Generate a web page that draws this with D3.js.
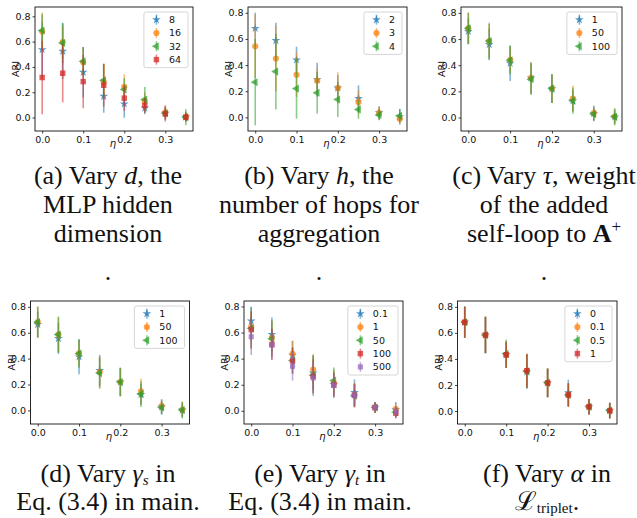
<!DOCTYPE html>
<html>
<head>
<meta charset="utf-8">
<script src="https://cdn.jsdelivr.net/npm/d3@7"></script>
<style>
  body { margin: 0; background: #fff; }
  .tick text, .lab { font-family: "DejaVu Sans", sans-serif; font-size: 9.5px; fill: #111; }
  .cap { font-family: "Liberation Serif", "DejaVu Serif", serif; font-size: 26px; fill: #111; }
</style>
</head>
<body>
<svg id="fig" width="637" height="518"></svg>
<script>
// noise levels on the x axis
var eta = [0, 0.05, 0.1, 0.15, 0.2, 0.25, 0.3, 0.35];
var xTicks = [0, 0.1, 0.2, 0.3];
var yTicks = [0, 0.2, 0.4, 0.6, 0.8];

// (a) hidden dimension d
var dLabels = ["8", "16", "32", "64"];
var dMeans = [
  [0.537, 0.524, 0.358, 0.168, 0.108, 0.076, 0.034, 0.005],
  [0.679, 0.597, 0.437, 0.280, 0.242, 0.129, 0.040, 0.005],
  [0.687, 0.589, 0.445, 0.295, 0.221, 0.142, 0.034, 0.003],
  [0.316, 0.350, 0.284, 0.255, 0.153, 0.095, 0.029, 0.003]
];
var dErrs = [
  [0.22, 0.22, 0.20, 0.13, 0.11, 0.05, 0.05, 0.04],
  [0.15, 0.13, 0.12, 0.14, 0.10, 0.07, 0.06, 0.04],
  [0.13, 0.16, 0.11, 0.13, 0.09, 0.10, 0.04, 0.065],
  [0.29, 0.23, 0.21, 0.17, 0.10, 0.06, 0.06, 0.03]
];

// (b) number of hops h
var hLabels = ["2", "3", "4"];
var hMeans = [
  [0.681, 0.588, 0.440, 0.288, 0.225, 0.145, 0.036, 0.005],
  [0.544, 0.450, 0.326, 0.282, 0.225, 0.117, 0.034, -0.010],
  [0.269, 0.350, 0.220, 0.189, 0.137, 0.060, 0.018, 0.013]
];
var hErrs = [
  [0.12, 0.135, 0.10, 0.13, 0.10, 0.10, 0.05, 0.06],
  [0.24, 0.25, 0.17, 0.10, 0.12, 0.09, 0.05, 0.04],
  [0.33, 0.29, 0.23, 0.16, 0.135, 0.07, 0.04, 0.05]
];

// (c) self-loop weight tau
var tauLabels = ["1", "50", "100"];
var tauMeans = [
  [0.659, 0.559, 0.415, 0.303, 0.221, 0.128, 0.031, 0.005],
  [0.682, 0.585, 0.441, 0.303, 0.221, 0.144, 0.033, 0.008],
  [0.682, 0.585, 0.438, 0.292, 0.221, 0.128, 0.026, 0.005]
];
var tauErrs = [
  [0.10, 0.12, 0.135, 0.12, 0.11, 0.08, 0.06, 0.05],
  [0.12, 0.13, 0.10, 0.12, 0.11, 0.10, 0.05, 0.06],
  [0.12, 0.14, 0.11, 0.12, 0.11, 0.10, 0.05, 0.065]
];

// (d) gamma_s
var gsLabels = ["1", "50", "100"];
var gsMeans = [
  [0.664, 0.556, 0.414, 0.309, 0.219, 0.123, 0.026, 0.003],
  [0.682, 0.586, 0.440, 0.296, 0.219, 0.147, 0.033, 0.005],
  [0.682, 0.586, 0.440, 0.288, 0.219, 0.126, 0.023, 0.003]
];
var gsErrs = [
  [0.10, 0.12, 0.135, 0.12, 0.11, 0.08, 0.06, 0.05],
  [0.12, 0.13, 0.10, 0.12, 0.11, 0.10, 0.05, 0.06],
  [0.12, 0.14, 0.11, 0.12, 0.11, 0.10, 0.05, 0.065]
];

// (e) gamma_t
var gtLabels = ["0.1", "1", "50", "100", "500"];
var gtMeans = [
  [0.689, 0.586, 0.427, 0.290, 0.200, 0.141, 0.028, 0.008],
  [0.643, 0.560, 0.437, 0.316, 0.214, 0.123, 0.026, 0.013],
  [0.633, 0.553, 0.386, 0.273, 0.232, 0.116, 0.026, -0.010],
  [0.622, 0.509, 0.383, 0.265, 0.200, 0.118, 0.026, -0.018],
  [0.568, 0.504, 0.342, 0.252, 0.195, 0.118, 0.026, -0.005]
];
var gtErrs = [
  [0.11, 0.13, 0.11, 0.13, 0.10, 0.10, 0.04, 0.06],
  [0.12, 0.13, 0.10, 0.11, 0.10, 0.09, 0.04, 0.05],
  [0.16, 0.14, 0.10, 0.16, 0.10, 0.09, 0.04, 0.04],
  [0.14, 0.12, 0.10, 0.13, 0.09, 0.09, 0.04, 0.04],
  [0.14, 0.11, 0.11, 0.12, 0.09, 0.08, 0.04, 0.04]
];

// (f) alpha
var aLabels = ["0", "0.1", "0.5", "1"];
var aMeans = [
  [0.682, 0.584, 0.432, 0.300, 0.216, 0.140, 0.033, 0.003],
  [0.682, 0.584, 0.432, 0.310, 0.216, 0.123, 0.033, 0.003],
  [0.682, 0.584, 0.440, 0.305, 0.216, 0.123, 0.033, 0.003],
  [0.682, 0.584, 0.432, 0.309, 0.216, 0.123, 0.033, 0.003]
];
var aErrs = [
  [0.12, 0.14, 0.10, 0.13, 0.11, 0.10, 0.06, 0.06],
  [0.12, 0.14, 0.10, 0.13, 0.11, 0.09, 0.06, 0.06],
  [0.12, 0.14, 0.11, 0.13, 0.11, 0.09, 0.06, 0.06],
  [0.12, 0.14, 0.10, 0.13, 0.11, 0.09, 0.06, 0.06]
];

var colors = ["#1f77b4", "#ff7f0e", "#2ca02c", "#d62728", "#9467bd"];
var shapes = [d3.symbolStar, d3.symbolCircle, d3.symbolTriangle, d3.symbolSquare, d3.symbolSquare];
var sizes = [24, 30, 28, 30, 26];
var rotations = [0, 0, -90, 0, 0];

// captions: each line is a list of [text, style]
var captions = [
  [[["(a) Vary ", ""], ["d", "i"], [", the", ""]], [["MLP hidden", ""]], [["dimension", ""]], [[".", ""]]],
  [[["(b) Vary ", ""], ["h", "i"], [", the", ""]], [["number of hops for", ""]], [["aggregation", ""]], [[".", ""]]],
  [[["(c) Vary ", ""], ["\u03c4", "i"], [", weight", ""]], [["of the added", ""]], [["self-loop to ", ""], ["A", "b"], ["+", "sup"]], [[".", ""]]],
  [[["(d) Vary ", ""], ["\u03b3", "i"], ["s", "isub"], [" in", ""]], [["Eq. (3.4) in main.", ""]]],
  [[["(e) Vary ", ""], ["\u03b3", "i"], ["t", "isub"], [" in", ""]], [["Eq. (3.4) in main.", ""]]],
  [[["(f) Vary ", ""], ["\u03b1", "i"], [" in", ""]], [["\u2112", ""], ["triplet", "sub"], [".", ""]]]
];

var topCap = [184, 213, 242, 280];
var botCap = [482, 510];

var panels = [
  { x0: 35, x1: 193, y0: 7, y1: 131, labels: dLabels, means: dMeans, errs: dErrs, cx: 108, capY: topCap },
  { x0: 248, x1: 407, y0: 7, y1: 131, labels: hLabels, means: hMeans, errs: hErrs, cx: 319, capY: topCap },
  { x0: 461, x1: 622, y0: 7, y1: 131, labels: tauLabels, means: tauMeans, errs: tauErrs, cx: 544, capY: topCap },
  { x0: 30.5, x1: 189.5, y0: 301, y1: 424, labels: gsLabels, means: gsMeans, errs: gsErrs, cx: 108, capY: botCap },
  { x0: 244, x1: 403, y0: 301, y1: 424, labels: gtLabels, means: gtMeans, errs: gtErrs, cx: 320, capY: botCap },
  { x0: 457.5, x1: 617, y0: 301, y1: 424, labels: aLabels, means: aMeans, errs: aErrs, cx: 547, capY: botCap }
];

var svg = d3.select("#fig");

function marker(sel, i) {
  sel.attr("d", d3.symbol().type(shapes[i]).size(sizes[i]))
    .attr("fill", colors[i])
    .attr("fill-opacity", 0.75);
}

function drawPanel(p, k) {
  var g = svg.append("g");
  var x = d3.scaleLinear().domain([-0.0175, 0.3675]).range([p.x0, p.x1]);
  var lo = d3.min(p.means, function (m, i) { return d3.min(m, function (v, j) { return v - p.errs[i][j]; }); });
  var hi = d3.max(p.means, function (m, i) { return d3.max(m, function (v, j) { return v + p.errs[i][j]; }); });
  var pad = (hi - lo) * 0.05;
  var y = d3.scaleLinear().domain([lo - pad, hi + pad]).range([p.y1, p.y0]);

  var xa = g.append("g").attr("transform", "translate(0," + p.y1 + ")")
    .call(d3.axisBottom(x).tickValues(xTicks).tickFormat(d3.format(".1f")).tickSize(2.5).tickPadding(2.5));
  var ya = g.append("g").attr("transform", "translate(" + p.x0 + ",0)")
    .call(d3.axisLeft(y).tickValues(yTicks).tickFormat(d3.format(".1f")).tickSize(2.5).tickPadding(2));
  [xa, ya].forEach(function (a) {
    a.select(".domain").remove();
    a.selectAll(".tick line").attr("stroke", "#111").attr("stroke-width", 0.8);
    a.attr("font-family", null).attr("font-size", null);
  });

  p.means.forEach(function (m, i) {
    var s = g.append("g");
    s.selectAll("line").data(m).join("line")
      .attr("x1", function (v, j) { return x(eta[j]); })
      .attr("x2", function (v, j) { return x(eta[j]); })
      .attr("y1", function (v, j) { return y(v - p.errs[i][j]); })
      .attr("y2", function (v, j) { return y(v + p.errs[i][j]); })
      .attr("stroke", colors[i]).attr("stroke-width", 1.6).attr("stroke-opacity", 0.55);
    s.selectAll("path").data(m).join("path")
      .call(marker, i)
      .attr("transform", function (v, j) {
        return "translate(" + x(eta[j]) + "," + y(v) + ") rotate(" + rotations[i] + ")";
      });
  });

  g.append("rect").attr("x", p.x0).attr("y", p.y0)
    .attr("width", p.x1 - p.x0).attr("height", p.y1 - p.y0)
    .attr("fill", "none").attr("stroke", "#111").attr("stroke-width", 0.9);

  g.append("text").attr("class", "lab")
    .attr("transform", "translate(" + (p.x0 - 16) + "," + ((p.y0 + p.y1) / 2) + ") rotate(-90)")
    .attr("text-anchor", "middle").text("ARI");
  g.append("text").attr("class", "lab")
    .attr("x", (p.x0 + p.x1) / 2 - 1).attr("y", p.y1 + 15.5)
    .attr("text-anchor", "middle").attr("font-style", "italic").style("font-size", "10px")
    .text("\u03b7");

  // legend
  var n = p.labels.length;
  var lg = g.append("g");
  var box = lg.append("rect").attr("rx", 2).attr("fill", "#fff").attr("fill-opacity", 0.8)
    .attr("stroke", "#ccc").attr("stroke-width", 0.8);
  var tw = 0;
  p.labels.forEach(function (lab, i) {
    var t = lg.append("text").attr("class", "lab").attr("x", 25).attr("y", 7.7 + i * 13.3)
      .attr("dy", "0.35em").text(lab);
    tw = Math.max(tw, t.node().getComputedTextLength());
    lg.append("line").attr("x1", 12.5).attr("x2", 12.5)
      .attr("y1", 7.7 + i * 13.3 - 5).attr("y2", 7.7 + i * 13.3 + 5)
      .attr("stroke", colors[i]).attr("stroke-width", 1.6).attr("stroke-opacity", 0.55);
    lg.append("path").call(marker, i)
      .attr("transform", "translate(12.5," + (7.7 + i * 13.3) + ") rotate(" + rotations[i] + ")");
  });
  var w = 25 + tw + 7;
  box.attr("width", w).attr("height", 13.3 * n + 2.5);
  lg.attr("transform", "translate(" + (p.x1 - 5 - w) + "," + (p.y0 + 5) + ")");

  // caption
  captions[k].forEach(function (line, li) {
    var t = svg.append("text").attr("class", "cap")
      .attr("x", p.cx).attr("y", p.capY[li]).attr("text-anchor", "middle");
    var shift = 0;
    line.forEach(function (part) {
      var st = part[1];
      var ts = t.append("tspan").text(part[0]);
      var target = 0;
      if (st === "i" || st === "isub") ts.attr("font-style", "italic");
      if (st === "b") ts.attr("font-weight", "bold");
      if (st === "sub" || st === "isub") { target = 3; ts.style("font-size", "15px"); }
      if (st === "sup") { target = -10; ts.style("font-size", "17px"); }
      ts.attr("dy", target - shift);
      shift = target;
    });
  });
}

panels.forEach(drawPanel);
</script>
</body>
</html>
